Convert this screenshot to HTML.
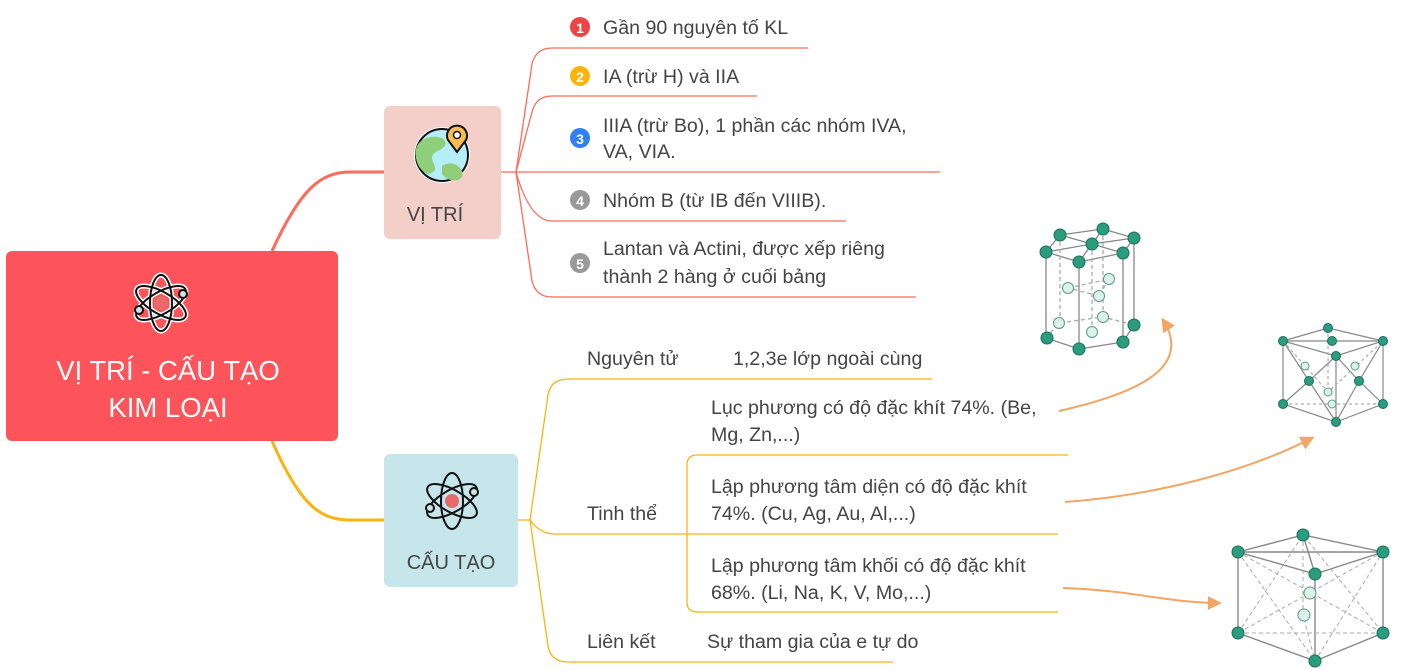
<!DOCTYPE html>
<html><head><meta charset="utf-8"><style>
html,body{margin:0;padding:0;background:#fff;}
svg{display:block;}
text{font-family:"Liberation Sans","DejaVu Sans",sans-serif;}
</style></head><body>
<svg width="1404" height="670" viewBox="0 0 1404 670" xmlns="http://www.w3.org/2000/svg">
<defs>
<marker id="ar" viewBox="0 0 10 10" refX="8" refY="5" markerWidth="7" markerHeight="7" orient="auto-start-reverse"><path d="M0,0 L10,5 L0,10 z" fill="#f3a563"/></marker>
</defs>
<path d="M272,251 C300,190 320,172 350,172 H384" fill="none" stroke="#fd6b5a" stroke-width="3"/>
<path d="M272,441 C300,505 320,520 350,520 H384" fill="none" stroke="#fbb30f" stroke-width="3"/>

<rect x="6" y="251" width="332" height="190" rx="6" fill="#fd535a"/>
<g transform="translate(161,303)" fill="none" stroke="#fff" stroke-width="5">
<ellipse rx="11" ry="28"/>
<ellipse rx="28" ry="11" transform="rotate(30)"/>
<ellipse rx="28" ry="11" transform="rotate(-30)"/>
</g>
<g transform="translate(161,303)" fill="none" stroke="#111" stroke-width="2">
<ellipse rx="11" ry="28"/>
<ellipse rx="28" ry="11" transform="rotate(30)"/>
<ellipse rx="28" ry="11" transform="rotate(-30)"/>
<circle r="7" fill="#e86a6a" stroke="none"/>
<circle cx="22" cy="-9" r="4" fill="#cfe3e6"/>
<circle cx="-22" cy="7" r="4" fill="#cfe3e6"/>
</g>
<text x="168" y="380" font-size="27.5" fill="#fff" text-anchor="middle">VỊ TRÍ - CẤU TẠO</text>
<text x="168" y="417" font-size="27.5" fill="#fff" text-anchor="middle">KIM LOẠI</text>

<rect x="384" y="106" width="117" height="133" rx="6" fill="#f4cfc9"/>
<circle cx="442" cy="155" r="28" fill="#fff"/>
<circle cx="442" cy="155" r="26" fill="#b5eef8" stroke="#111" stroke-width="2"/>
<path d="M420,142 q10,-8 22,-4 q8,6 -2,12 q-12,4 -6,14 q4,8 -6,10 q-10,-4 -12,-16 q-2,-10 4,-16z" fill="#8fcf7a"/>
<path d="M442,166 q10,-6 18,2 q6,8 -2,12 q-10,2 -16,-6z" fill="#8fcf7a"/>
<path d="M457,152 l-9,-12 a10,10 0 1 1 18,0z" fill="#fbbd4e" stroke="#111" stroke-width="2"/>
<circle cx="457" cy="135" r="3.5" fill="#fff" stroke="#111" stroke-width="1.5"/>
<text x="435" y="221" font-size="20" fill="#444" text-anchor="middle">VỊ TRÍ</text>

<rect x="384" y="454" width="134" height="133" rx="6" fill="#c6e6eb"/>
<g transform="translate(452,501)" fill="none" stroke="#111" stroke-width="2">
<ellipse rx="11" ry="28"/>
<ellipse rx="28" ry="11" transform="rotate(30)"/>
<ellipse rx="28" ry="11" transform="rotate(-30)"/>
<circle r="7" fill="#e86a6a" stroke="none"/>
<circle cx="22" cy="-9" r="4" fill="#cfe3e6"/>
<circle cx="-22" cy="7" r="4" fill="#cfe3e6"/>
</g>
<text x="451" y="569" font-size="20" fill="#444" text-anchor="middle">CẤU TẠO</text>

<g fill="none" stroke="#fd6b5a" stroke-width="1.3">
<path d="M501,172 H516"/>
<path d="M516,172 L532,64 Q536,48 552,48 H808"/>
<path d="M516,172 L532,112 Q536,96 552,96 H757"/>
<path d="M516,172 H940"/>
<path d="M516,172 Q530,221 552,221 H846"/>
<path d="M516,172 L532,281 Q536,297 552,297 H916"/>
</g>
<g font-size="19.6" fill="#444">
<circle cx="580" cy="27" r="10" fill="#ef4444"/><text x="580" y="33" font-size="14" fill="#fff" text-anchor="middle" font-weight="bold">1</text>
<text x="603" y="34">Gần 90 nguyên tố KL</text>
<circle cx="580" cy="76" r="10" fill="#fbb30f"/><text x="580" y="82" font-size="14" fill="#fff" text-anchor="middle" font-weight="bold">2</text>
<text x="603" y="83">IA (trừ H) và IIA</text>
<circle cx="580" cy="138" r="10" fill="#2f7ff5"/><text x="580" y="144" font-size="14" fill="#fff" text-anchor="middle" font-weight="bold">3</text>
<text x="603" y="132">IIIA (trừ Bo), 1 phần các nhóm IVA,</text>
<text x="603" y="158">VA, VIA.</text>
<circle cx="580" cy="200" r="10" fill="#999"/><text x="580" y="206" font-size="14" fill="#fff" text-anchor="middle" font-weight="bold">4</text>
<text x="603" y="207">Nhóm B (từ IB đến VIIIB).</text>
<circle cx="580" cy="263" r="10" fill="#999"/><text x="580" y="269" font-size="14" fill="#fff" text-anchor="middle" font-weight="bold">5</text>
<text x="603" y="255">Lantan và Actini, được xếp riêng</text>
<text x="603" y="283">thành 2 hàng ở cuối bảng</text>
</g>

<g fill="none" stroke="#fbb30f" stroke-width="1.3">
<path d="M518,520 H530"/>
<path d="M530,520 L548,395 Q551,379 568,379 H932"/>
<path d="M530,520 Q540,534 555,534 H1058"/>
<path d="M530,520 L548,646 Q551,662 568,662 H893"/>
<path d="M1068,455 H697 Q687,455 687,465 V602 Q687,612 697,612 H1058"/>
</g>
<g font-size="19.6" fill="#444">
<text x="587" y="365">Nguyên tử</text>
<text x="733" y="365">1,2,3e lớp ngoài cùng</text>
<text x="711" y="414">Lục phương có độ đặc khít 74%. (Be,</text>
<text x="711" y="441">Mg, Zn,...)</text>
<text x="587" y="520">Tinh thể</text>
<text x="711" y="493">Lập phương tâm diện có độ đặc khít</text>
<text x="711" y="520">74%. (Cu, Ag, Au, Al,...)</text>
<text x="711" y="572">Lập phương tâm khối có độ đặc khít</text>
<text x="711" y="599">68%. (Li, Na, K, V, Mo,...)</text>
<text x="587" y="648">Liên kết</text>
<text x="707" y="648">Sự tham gia của e tự do</text>
</g>

<g fill="none" stroke="#f3a563" stroke-width="2">
<path d="M1059,411 C1130,395 1195,370 1163,320" marker-end="url(#ar)"/>
<path d="M1065,502 C1160,495 1250,470 1312,438" marker-end="url(#ar)"/>
<path d="M1063,588 C1130,590 1170,603 1219,603" marker-end="url(#ar)"/>
</g>

<g stroke="#888" stroke-width="1.3" fill="none">
<path d="M1046,252 L1060,235 L1103,229 L1134,238 L1123,253 L1079,262 Z"/>
<path d="M1046,252 L1092,244 L1123,253 M1060,235 L1092,244 L1103,229 M1079,262 L1092,244 L1134,238"/>
<path d="M1046,252 V338 M1079,262 V349 M1123,253 V342 M1134,238 V325"/>
<path d="M1046,338 L1079,349 L1123,342 L1134,325"/>
<g stroke-dasharray="4,3" stroke="#aaa">
<path d="M1060,235 V323 M1103,229 V317 M1092,244 V332 M1046,338 L1059,323 L1103,317 L1134,325 M1068,288 L1109,279 L1099,296 Z"/>
</g>
</g>
<g fill="#2a9d7f" stroke="#1d6f5a">
<circle cx="1060" cy="235" r="6"/><circle cx="1103" cy="229" r="6"/><circle cx="1134" cy="238" r="6"/><circle cx="1123" cy="253" r="6"/><circle cx="1079" cy="262" r="6"/><circle cx="1046" cy="252" r="6"/><circle cx="1092" cy="244" r="6"/>
<circle cx="1047" cy="338" r="6"/><circle cx="1079" cy="349" r="6"/><circle cx="1123" cy="342" r="6"/><circle cx="1134" cy="325" r="6"/>
</g>
<g fill="#dcf2e8" stroke="#5a9a85">
<circle cx="1068" cy="288" r="5.5"/><circle cx="1109" cy="279" r="5.5"/><circle cx="1099" cy="296" r="5.5"/><circle cx="1059" cy="323" r="5.5"/><circle cx="1103" cy="317" r="5.5"/><circle cx="1092" cy="332" r="5.5"/>
</g>

<g stroke="#888" stroke-width="1.2" fill="none">
<path d="M1283,341 L1328,328 L1383,341 L1336,356 Z M1283,341 V404 L1336,422 L1383,404 V341 M1336,356 V422"/>
<path d="M1283,341 L1309,381 L1336,356 M1283,404 L1309,381 L1336,422 M1336,356 L1359,381 L1383,341 M1336,422 L1359,381 L1383,404 M1283,341 L1383,341"/>
<g stroke-dasharray="3,3" stroke="#aaa"><path d="M1328,328 V392 M1283,404 L1383,404 M1283,341 L1328,392 L1383,341"/></g>
</g>
<g fill="#2a9d7f" stroke="#1d6f5a">
<circle cx="1328" cy="328" r="4.5"/><circle cx="1283" cy="341" r="4.5"/><circle cx="1383" cy="341" r="4.5"/><circle cx="1332" cy="341" r="4.5"/><circle cx="1336" cy="356" r="4.5"/>
<circle cx="1283" cy="404" r="4.5"/><circle cx="1383" cy="404" r="4.5"/><circle cx="1336" cy="422" r="4.5"/><circle cx="1309" cy="381" r="4.5"/><circle cx="1359" cy="381" r="4.5"/>
</g>
<g fill="#dcf2e8" stroke="#5a9a85"><circle cx="1305" cy="366" r="4"/><circle cx="1355" cy="366" r="4"/><circle cx="1328" cy="392" r="4"/><circle cx="1332" cy="404" r="4"/></g>

<g stroke="#888" stroke-width="1.4" fill="none">
<path d="M1238,552 L1303,535 L1383,552 L1315,574 Z M1238,552 L1383,552 M1238,552 V633 L1315,661 L1383,633 V552 M1315,574 V661 M1303,535 L1315,574"/>
<g stroke-dasharray="4,3" stroke="#aaa" stroke-width="1"><path d="M1238,633 L1383,633 M1238,552 L1383,633 M1383,552 L1238,633 M1303,535 V615 L1315,661 M1238,633 L1303,535 L1383,633 M1238,552 L1315,661 L1383,552"/></g>
</g>
<g fill="#2a9d7f" stroke="#1d6f5a">
<circle cx="1303" cy="535" r="6"/><circle cx="1238" cy="552" r="6"/><circle cx="1383" cy="552" r="6"/><circle cx="1315" cy="574" r="6"/>
<circle cx="1238" cy="633" r="6"/><circle cx="1383" cy="633" r="6"/><circle cx="1315" cy="661" r="6"/>
</g>
<g fill="#dcf2e8" stroke="#5a9a85"><circle cx="1310" cy="593" r="6"/><circle cx="1304" cy="615" r="6"/></g>
</svg>
</body></html>
